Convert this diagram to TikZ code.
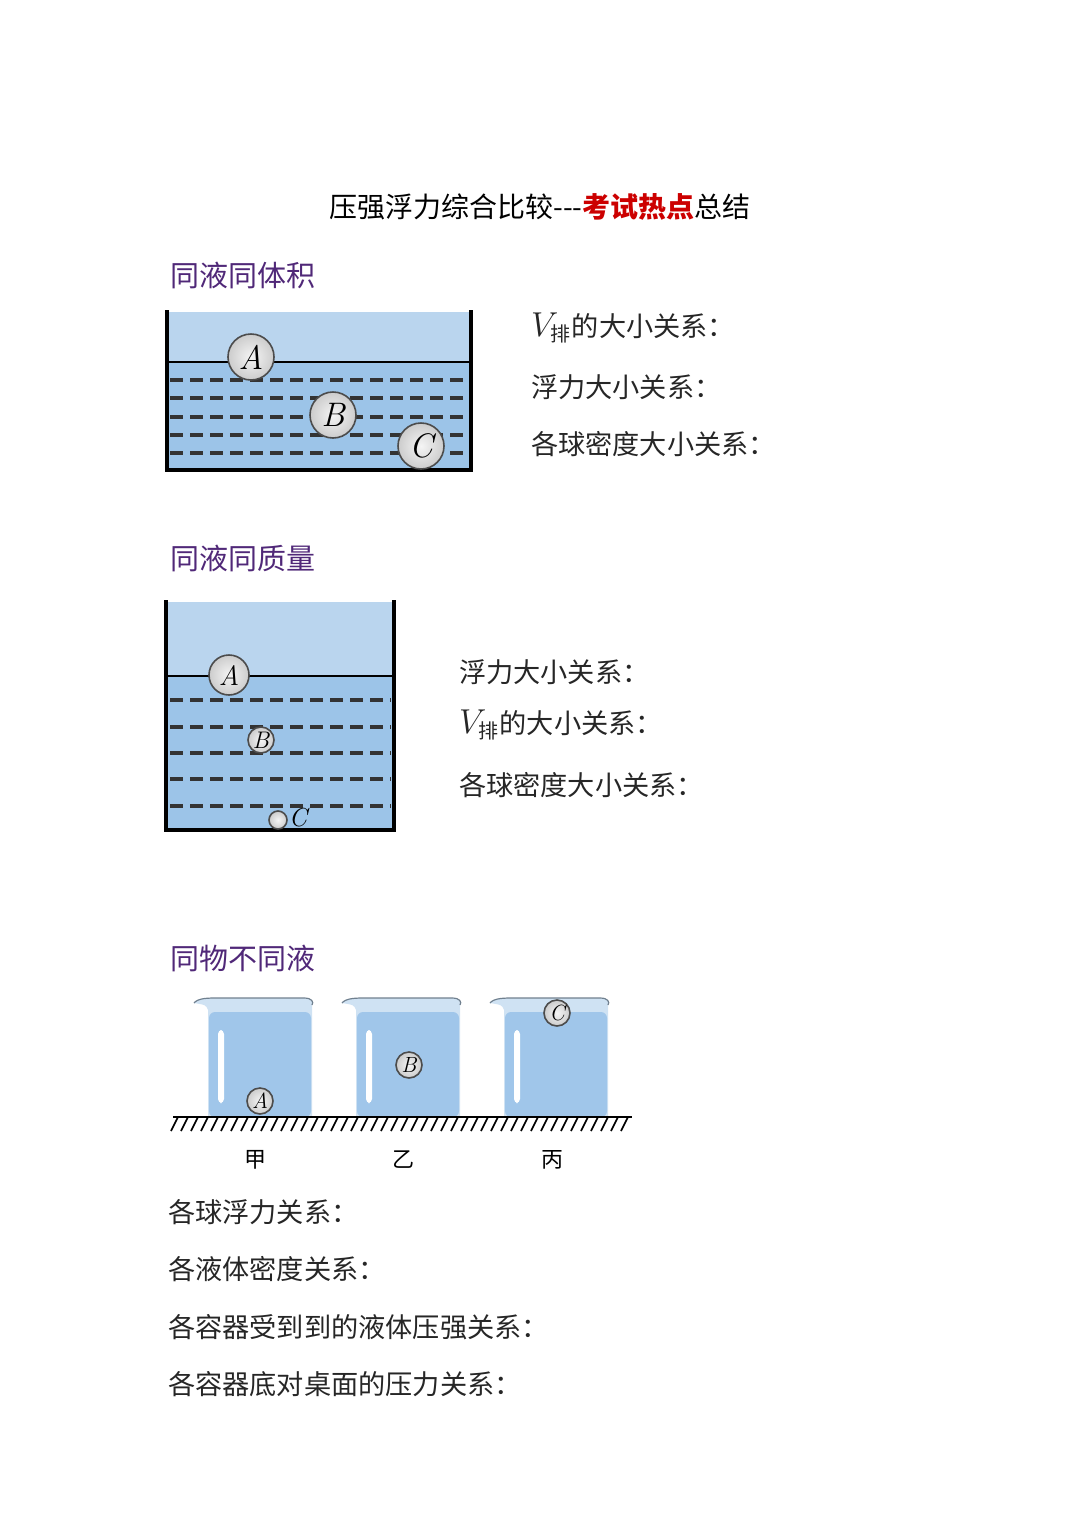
\documentclass[tikz,border=0pt]{standalone}
\usepackage{fontspec}
\newfontfamily\cjk{Noto Sans CJK SC}
\begin{document}
\begin{tikzpicture}[x=0.5pt,y=-0.5pt,
  txt/.style={anchor=west,font=\cjk\fontsize{13.6}{15}\selectfont,text=black!85},
  head/.style={anchor=west,font=\cjk\fontsize{14.5}{16}\selectfont,text={rgb,255:red,80;green,40;blue,120}},
  ball/.style={circle,draw=black!70,line width=0.8pt,inner sep=0pt,inner color=gray!8,outer color=gray!40,font=\itshape},
  wall/.style={line width=1.6pt,black},
  dl/.style={line width=1.9pt,dash pattern=on 6.5pt off 3.5pt,black!80}]
\useasboundingbox (0,0) rectangle (1080,1531);
\definecolor{airb}{RGB}{186,213,238}
\definecolor{wat}{RGB}{156,196,232}
\definecolor{bwat}{RGB}{160,198,234}
% title
\node (title) at (540,207) {\cjk\fontsize{14}{16}\selectfont 压强浮力综合比较---\textcolor{red!80!black}{\bfseries 考试热点}总结};
% section 1
\node[head] (h1) at (163,275) {同液同体积};
\fill[airb] (167,312) rectangle (471,362);
\fill[wat] (167,362) rectangle (471,470);
\draw[wall] (167,310) -- (167,470) -- (471,470) -- (471,310);
\draw[line width=1.4pt] (167,362) -- (471,362);
\foreach \y in {380,398,417,435,453} \draw[dl] (170,\y) -- (468,\y);
\node[ball,minimum size=23pt,font=\fontsize{17}{17}\selectfont\itshape] (a1) at (251,357) {A};
\node[ball,minimum size=23pt,font=\fontsize{17}{17}\selectfont\itshape] (b1) at (333,415) {B};
\node[ball,minimum size=23pt,font=\fontsize{17}{17}\selectfont\itshape] (c1) at (421,446) {C};
\node[txt] (t11) at (524,328) {\fontsize{16}{16}\selectfont$V_{\mbox{\cjk\fontsize{10}{10}\selectfont 排}}$\fontsize{13.6}{15}\selectfont 的大小关系：};
\node[txt] (t12) at (524,387) {浮力大小关系：};
\node[txt] (t13) at (524,444) {各球密度大小关系：};
% section 2
\node[head] (h2) at (163,558) {同液同质量};
\fill[airb] (166,602) rectangle (394,676);
\fill[wat] (166,676) rectangle (394,830);
\draw[wall] (166,600) -- (166,830) -- (394,830) -- (394,600);
\draw[line width=1.4pt] (166,676) -- (394,676);
\foreach \y in {700,727,753,779,806} \draw[dl] (170,\y) -- (391,\y);
\node[ball,minimum size=20pt,font=\fontsize{14}{14}\selectfont\itshape] (a2) at (229,675) {A};
\node[ball,minimum size=13pt,font=\fontsize{12}{12}\selectfont\itshape] (b2) at (261,740) {B};
\node[ball,minimum size=9pt] (c2) at (278,820) {};
\node[font=\fontsize{13}{13}\selectfont\itshape] (c2l) at (298,818) {C};
\node[txt] (t21) at (452,672) {浮力大小关系：};
\node[txt] (t22) at (452,725) {\fontsize{16}{16}\selectfont$V_{\mbox{\cjk\fontsize{10}{10}\selectfont 排}}$\fontsize{13.6}{15}\selectfont 的大小关系：};
\node[txt] (t23) at (452,785) {各球密度大小关系：};
% section 3
\node[head] (h3) at (163,958) {同物不同液};
\foreach \x/\n in {208/1,356/2,504/3}{
  \fill[airb!70!white] (\x-14,1003) .. controls (\x-10,998) and (\x,998) .. (\x+10,998) -- (\x+96,998) .. controls (\x+104,998) and (\x+106,1002) .. (\x+104,1005) -- (\x+104,1117) -- (\x,1117) -- (\x,1010) .. controls (\x-2,1005) .. (\x-14,1003);
  \fill[bwat,rounded corners=3pt] (\x+1,1012) rectangle (\x+103,1117);
  \draw[airb!60!black,line width=0.6pt] (\x-14,1003) .. controls (\x-10,998) and (\x,998) .. (\x+10,998) -- (\x+96,998) .. controls (\x+104,998) and (\x+106,1002) .. (\x+104,1005);
  \fill[white,rounded corners=2pt] (\x+10,1030) rectangle (\x+16,1103);
}
\draw[line width=1.1pt] (173,1117) -- (632,1117);
\foreach \x in {178,188,...,628} \draw[line width=0.8pt] (\x,1117) -- (\x-7,1131);
\node[ball,minimum size=13pt,font=\fontsize{11}{11}\selectfont\itshape] (a3) at (260,1101) {A};
\node[ball,minimum size=13pt,font=\fontsize{11}{11}\selectfont\itshape] (b3) at (409,1065) {B};
\node[ball,minimum size=13pt,font=\fontsize{11}{11}\selectfont\itshape] (c3) at (557,1013) {C};
\node[font=\cjk\fontsize{11}{11}\selectfont] (l1) at (255,1160) {甲};
\node[font=\cjk\fontsize{11}{11}\selectfont] (l2) at (403,1160) {乙};
\node[font=\cjk\fontsize{11}{11}\selectfont] (l3) at (552,1160) {丙};
\node[txt] (t31) at (161,1212) {各球浮力关系：};
\node[txt] (t32) at (161,1269) {各液体密度关系：};
\node[txt] (t33) at (161,1327) {各容器受到到的液体压强关系：};
\node[txt] (t34) at (161,1384) {各容器底对桌面的压力关系：};
\end{tikzpicture}
\end{document}
